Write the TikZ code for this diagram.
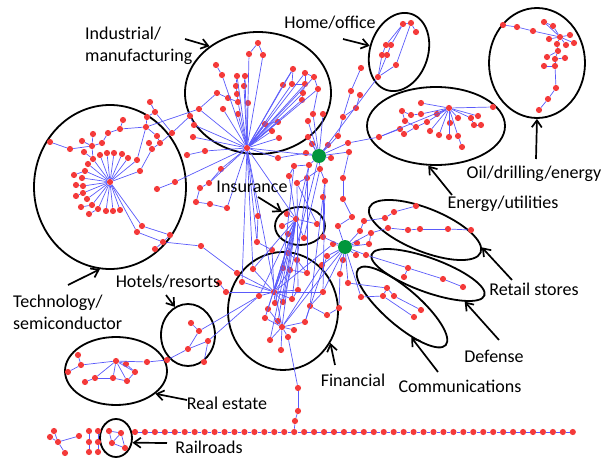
\documentclass[tikz,border=0pt]{standalone}
\usepackage{fontspec}
\setmainfont{Carlito}
\usetikzlibrary{arrows.meta,shapes.geometric}
\definecolor{dotred}{RGB}{244,58,58}
\definecolor{linkblue}{RGB}{90,90,250}
\definecolor{hubgreen}{RGB}{0,150,60}

\begin{document}
\begin{tikzpicture}[
  x=1pt, y=-1pt,
  dot/.style={circle,fill=dotred,inner sep=0pt,minimum size=6.2pt},
  hub/.style={circle,fill=hubgreen,inner sep=0pt,minimum size=14pt},
  link/.style={draw=linkblue,line width=0.7pt},
  grp/.style={draw,ellipse,line width=1.8pt,inner sep=0pt},
  lbl/.style={font=\fontsize{18}{22}\selectfont,inner sep=0pt,align=left},
  pnt/.style={-{Straight Barb[length=7pt,width=10pt]},line width=1.7pt}
]
  \useasboundingbox (0,0) rectangle (606,460);

  % groups
  \node[grp,minimum width=152pt,minimum height=164pt] (tech) at (110,187) {};
  \node[grp,minimum width=146pt,minimum height=122pt] (ind) at (258,93) {};
  \node[grp,minimum width=80pt,minimum height=58pt,rotate=72] (home) at (399,52) {};
  \node[grp,minimum width=138pt,minimum height=78pt] (energy) at (436,126) {};
  \node[grp,minimum width=96pt,minimum height=110pt] (oil) at (537,63) {};
  \node[grp,minimum width=50pt,minimum height=38pt] (insur) at (300,226) {};
  \node[grp,minimum width=110pt,minimum height=118pt] (fin) at (283,311) {};
  \node[grp,minimum width=54pt,minimum height=62pt] (hotel) at (188,335) {};
  \node[grp,minimum width=102pt,minimum height=68pt] (realest) at (116,371) {};
  \node[grp,minimum width=32pt,minimum height=38pt] (rail) at (116,438) {};
  \node[grp,minimum width=120pt,minimum height=43pt,rotate=-22] (retail) at (425,230) {};
  \node[grp,minimum width=120pt,minimum height=34pt,rotate=-20] (defense) at (428,275) {};
  \node[grp,minimum width=116pt,minimum height=36pt,rotate=-41] (comm) at (402,307) {};

  % hubs
  \node[hub] (g1) at (319,156) {};
  \node[hub] (g2) at (345,247) {};

  % technology
  \foreach \n/\x/\y in {t0/110/182,t1/88/164,t2/85/171,t3/82/178,t4/83/186,t5/83/193,
    t6/87/199,t7/92/205,t8/98/209,t9/106/211,t10/113/211,t11/120/210,t12/93/159,
    t13/100/155,t14/107/153,t15/114/153,t16/122/154,t17/128/158,t18/137/160,t19/140/171,
    t20/74/175,t21/76/185,t22/76/196,t23/81/207,t24/89/214,t25/84/152,t26/92/146,
    t27/82/141,t28/93/134,t29/70/149,t30/50/142,t31/102/143,t32/108/133,t33/120/129,
    t34/123/120,t35/146/127,t36/149/143,t37/152/149,t38/160/143,t39/157/136,t40/172/133,
    t41/150/102,t42/155/112,t43/147/117,t44/142/226,t45/137/232,t46/170/235,t47/163/242,
    t48/155/249,t49/201/246,t50/157/189,t51/175/182}
    \node[dot] (\n) at (\x,\y) {};

  % industrial
  \foreach \n/\x/\y in {i0/247/148,i1/258/43,i2/249/54,i3/263/55,i4/216/65,i5/222/75,
    i6/237/76,i7/245/76,i8/236/86,i9/244/86,i10/217/93,i11/237/94,i12/228/98,i13/238/102,
    i14/248/103,i15/223/109,i16/199/109,i17/238/114,i18/293/69,i19/305/73,i20/314/77,
    i21/283/85,i22/292/84,i23/305/84,i24/318/89,i25/303/93,i26/302/100,i27/313/114,
    i28/323/114,i29/308/121,i30/278/122,i31/265/124,i32/272/131,i33/279/138,i34/308/137,
    i35/190/116,i36/194/125,i37/193/137,i38/205/151,i39/187/155}
    \node[dot] (\n) at (\x,\y) {};

  % home, oil, energy
  \foreach \n/\x/\y in {h1/403/24,h2/411/23,h3/416/32,h4/386/45,h5/391/45,h6/382/55,
    h7/387/55,h8/396/65,h9/378/77,
    o0/560/37,o1/503/25,o2/517/27,o3/533/31,o4/544/22,o5/553/26,o6/549/39,o7/570/35,
    o8/574/43,o9/566/45,o10/557/44,o11/558/51,o12/547/57,o13/555/59,o14/565/58,
    o15/544/66,o16/555/66,o17/556/88,o18/548/99,o19/539/110,
    e0/449/108,e1/421/103,e2/402/111,e3/411/115,e4/421/114,e5/437/114,e6/427/122,
    e7/416/127,e8/405/121,e9/400/129,e10/404/134,e11/430/131,e12/439/135,e13/449/137,
    e14/450/123,e15/458/136,e16/462/147,e17/458/118,e18/471/118,e19/478/116,e20/474/125,
    e21/481/125,e22/493/107,e23/379/137}
    \node[dot] (\n) at (\x,\y) {};

  % around the hubs
  \foreach \n/\x/\y in {a1/312/144,a2/306/153,a3/309/165,a4/320/169,a5/331/158,
    a6/328/145,a7/338/136,a8/348/143,a9/349/152,a10/343/117,a11/356/108,a12/351/91,
    a13/360/95,a14/361/68,a15/294/166,a16/297/183,a17/307/178,a18/325/181,a19/343/178,
    a20/323/197,a21/343/199,a22/278/158,a23/289/176,
    b1/352/217,b2/364/221,b3/338/226,b4/360/231,b5/371/233,b6/357/243,b7/369/244,
    b8/333/244,b9/327/256,b10/343/260,b11/356/255,b12/366/255,b13/340/274,b14/348/283,
    b15/361/297,b16/322/265,b17/339/308,b18/327/315,b19/323/237}
    \node[dot] (\n) at (\x,\y) {};

  % retail, defense, communications, insurance
  \foreach \n/\x/\y in {r1/385/218,r2/394/212,r3/416/206,r4/388/228,r5/408/230,
    r6/420/229,r7/448/229,r8/471/230,
    d1/408/268,d2/404/277,d3/443/279,d4/463/287,
    c1/387/288,c2/383/296,c3/394/296,c4/421/310,c5/414/317,
    n0/296/219,n1/287/214,n2/282/226,n3/288/234,n4/304/238,n5/317/224}
    \node[dot] (\n) at (\x,\y) {};

  % financial and the rest
  \foreach \n/\x/\y in {f0/274/292,f1/282/327,f2/253/269,f3/237/273,f4/242/282,
    f5/259/296,f6/283/268,f7/290/270,f8/307/273,f9/298/290,f10/323/292,f11/310/306,
    f12/275/303,f13/283/302,f14/292/299,f15/268/309,f16/265/318,f17/278/321,f18/294/330,
    f19/288/337,f20/305/322,f21/270/340,f22/281/350,f23/298/388,f24/298/411,f25/295/421,
    f26/258/216,f27/257/242,f28/272/250,f29/297/260,f30/288/253,f31/226/292,f32/219/283,
    m1/221/169,m2/209/183,m3/200/188,m4/196/202,m5/210/204,m6/227/208,
    k1/191/323,k2/199/331,k3/208/341,k4/188/349,k5/204/362,k6/167/360,
    s0/116/361,s1/78/355,s2/81/365,s3/68/372,s4/126/364,s5/135/372,s6/147/362,
    s7/127/381,s8/113/378,s9/95/378,s10/85/382,
    l1/54/431,l2/50/437,l3/58/442,l4/79/436,l5/65/453,
    p1/89/431,p2/89/442,p3/89/452,p4/98/431,p5/98/442,p6/98/452,
    q1/109/431,q2/121/433,q3/112/443,q4/125/448}
    \node[dot] (\n) at (\x,\y) {};

  % bottom chain
  \foreach \k in {0,...,44}
    \node[dot] (w\k) at ({135+9.95*\k},432) {};
  \foreach \k [count=\j] in {0,...,43}
    \draw[link] (w\k) -- (w\j);

  % star edges
  \foreach \k in {1,...,19} \draw[link] (t0) -- (t\k);
  \foreach \k in {1,...,9} \draw[link] (g1) -- (a\k);
  \foreach \k in {1,...,5} \draw[link] (n0) -- (n\k);

  % edges
  \foreach \a/\b in {t0/t44,t0/t45,t2/t20,t4/t21,t5/t22,t7/t23,t8/t24,t12/t25,t12/t26,
    t26/t27,t26/t28,t26/t29,t29/t30,t26/t31,t31/t32,t32/t33,t33/t34,t33/t35,t35/t18,
    t36/t37,t37/t38,t38/t39,t39/t35,t37/t19,t38/t40,t40/t42,t42/t41,t43/t35,t43/t42,
    t44/t46,t45/t47,t46/t47,t47/t48,t47/t49,t50/t51,t51/i0,t35/i16,t40/i35,
    i1/i2,i1/i3,i2/i0,i3/i0,i4/i5,i5/i0,i6/i8,i7/i9,i8/i11,i9/i0,i10/i12,i12/i13,
    i11/i13,i13/i0,i14/i0,i15/i0,i16/i0,i17/i0,i16/i10,i7/i0,i6/i0,i18/i21,i18/i22,
    i19/i23,i19/i20,i20/i24,i22/i23,i23/i25,i21/i0,i22/i0,i23/i0,i25/i0,i26/i0,
    i24/i27,i27/g1,i28/g1,i29/g1,i34/g1,i30/i0,i31/i0,i32/i0,i33/i0,i26/i25,i30/i31,
    i18/i0,i19/i0,i35/i36,i36/i0,i37/i0,i38/i0,i39/i38,i0/g1,i0/a22,i24/i0,i20/i0}
    \draw[link] (\a) -- (\b);
  \foreach \a/\b in {h1/h2,h2/h3,h1/h5,h1/h4,h4/h6,h5/h7,h6/h9,h7/h9,h8/h9,h2/h8,h9/g1,
    o1/o2,o2/o3,o3/o0,o4/o0,o5/o0,o4/o5,o0/o6,o0/o7,o0/o8,o0/o9,o0/o10,o10/o11,
    o11/o13,o11/o12,o13/o14,o13/o16,o16/o15,o16/o17,o17/o18,o18/o19,
    e0/e1,e0/e4,e0/e5,e0/e6,e0/e11,e0/e12,e0/e13,e0/e14,e0/e15,e0/e17,e0/e18,e0/e19,
    e0/e22,e0/e23,e2/e3,e3/e4,e2/e8,e8/e7,e7/e6,e9/e10,e9/e23,e15/e16,e18/e20,e20/e21,
    e10/e7,a7/a10,a10/a11,a11/a13,a10/a12,a12/a14,a3/a15,a15/a23,a2/a22,a4/a17,
    a17/a16,a4/a18,a18/a20,a9/a19,a19/a21,a8/e23}
    \draw[link] (\a) -- (\b);
  \foreach \a/\b in {g2/b3,g2/b4,g2/b5,g2/b6,g2/b7,g2/b8,g2/b9,g2/b10,g2/b11,g2/b12,
    g2/b13,g2/b14,g2/b15,g2/b16,g2/b19,b1/b3,b1/a21,b2/b4,b5/b7,b17/b13,b18/b17,
    a20/b19,b2/r1,r1/r2,r2/r3,b5/r4,r4/r5,r5/r6,r6/r7,r7/r8,d1/d2,d1/d3,d3/d4,b12/d1,
    c1/c2,c1/c3,c3/c4,c2/c5,b14/c1,b15/c2,n0/f0,n0/f1,n0/f2,n0/f12,n0/f15,n0/f17,
    n0/f16,n0/f21,n0/f13,n0/f5,i0/n0,a16/n5,a23/n0,a3/n0,a4/n4,
    f0/f2,f0/f3,f0/f4,f0/f5,f0/f6,f0/f7,f0/f9,f0/f10,f0/f12,f0/f13,f0/f14,f0/f31,
    f1/f15,f1/f16,f1/f17,f1/f18,f1/f19,f1/f20,f1/f21,f1/f22,f14/f9,f20/f11,f11/f10,
    f8/f7,f19/f23,f23/f24,f24/f25,f25/w16,f26/f27,f27/f28,f28/f0,f29/f30,f30/f0,
    f32/f31,f4/i0,f3/t49,f26/i0,f2/i0,a16/f9,a17/f8,a20/f11,g2/f1,g2/f10,b8/f0,
    b9/f20,b16/f1,b18/f11,f8/f29,i0/f27,i0/f1,a15/f6,a3/f14,g1/f13,a18/f10,
    m1/i0,m2/m1,m3/m2,m3/m4,m4/m5,m5/m6,m6/i0,m2/i0,
    k1/k2,k2/k4,k3/k4,k4/k6,k2/f5,k3/f5,k5/k3,s6/k6,
    s0/s2,s0/s9,s0/s8,s0/s7,s0/s5,s0/s4,s0/s6,s1/s2,s3/s2,s10/s9,s9/s8,s8/s7,s4/s5,
    s5/s7,l1/l3,l2/l3,l3/l4,l3/l5,p1/p2,p2/p3,p4/p5,p5/p6,q1/q2,q1/q3,q2/q4,q3/q4,
    q2/q3}
    \draw[link] (\a) -- (\b);

  % labels
  \node[lbl,anchor=west] (indL) at (85,46) {Industrial/\\manufacturing};
  \node[lbl] (homeL) at (330,23) {Home/office};
  \node[lbl] (oilL) at (534,174) {Oil/drilling/energy};
  \node[lbl] (energyL) at (503,204) {Energy/utilities};
  \node[lbl] (insurL) at (252,187) {Insurance};
  \node[lbl,anchor=west] (techL) at (13,312) {Technology/\\semiconductor};
  \node[lbl] (hotelL) at (168,282) {Hotels/resorts};
  \node[lbl] (realL) at (227,403) {Real estate};
  \node[lbl] (railL) at (209,447) {Railroads};
  \node[lbl] (finL) at (353,380) {Financial};
  \node[lbl] (commL) at (460,386) {Communications};
  \node[lbl] (defL) at (494,356) {Defense};
  \node[lbl] (retailL) at (534,289) {Retail stores};

  % pointers
  \coordinate (indA) at (185,39);
  \coordinate (homeA) at (343,39);
  \coordinate (oilA) at (536,159);
  \coordinate (energyA) at (452,195);
  \coordinate (insurA) at (258,197);
  \coordinate (techA) at (68,285);
  \coordinate (hotelA) at (166,295);
  \coordinate (realA) at (187,400);
  \coordinate (railA) at (167,443);
  \coordinate (finA) at (335,365);
  \coordinate (commA) at (438,372);
  \coordinate (defA) at (499,340);
  \coordinate (retailA) at (512,280);
  \draw[pnt] (indA) -- (ind.136);
  \draw[pnt] (homeA) -- (home.96);
  \draw[pnt] (oilA) -- (oil.270);
  \draw[pnt] (energyA) -- (energy.259);
  \draw[pnt] (insurA) -- (insur.142);
  \draw[pnt] (techA) -- (tech.263);
  \draw[pnt] (hotelA) -- (hotel.115);
  \draw[pnt] (realA) -- (realest.330);
  \draw[pnt] (railA) -- (rail.344);
  \draw[pnt] (finA) -- (fin.326);
  \draw[pnt] (commA) -- (comm.328);
  \draw[pnt] (defA) -- (defense.344);
  \draw[pnt] (retailA) -- (retail.5);
\end{tikzpicture}
\end{document}
